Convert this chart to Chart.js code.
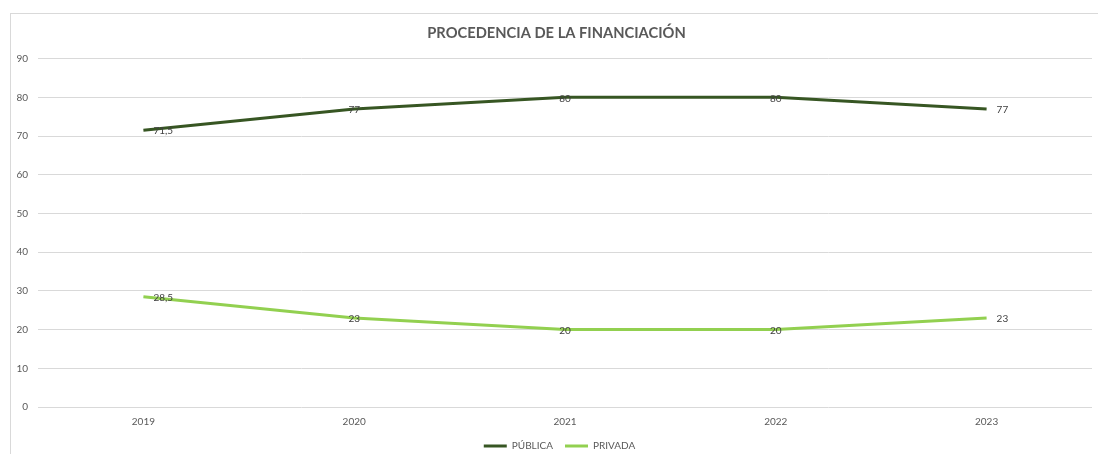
<!DOCTYPE html>
<html>
<head>
<meta charset="utf-8">
<style>
  html, body { margin: 0; padding: 0; background: #fff; overflow: hidden; }
  #box {
    position: absolute; left: 10px; top: 13px;
    width: 1092px; height: 470px;
    border: 1px solid #d9d9d9; background: #fff;
  }
  canvas { display: block; }
</style>
</head>
<body>
<div id="box"><canvas id="finChart" width="1092" height="449"></canvas></div>

<script src="https://cdn.jsdelivr.net/npm/chart.js"></script>
<script>
  const years = ["2019", "2020", "2021", "2022", "2023"];
  const publica = [71.5, 77, 80, 80, 77];
  const privada = [28.5, 23, 20, 20, 23];
  const yTicks = [0, 10, 20, 30, 40, 50, 60, 70, 80, 90];

  const FONT = "Lato, 'Liberation Sans', sans-serif";
  const GREY = "#595959";

  // data labels: first/last to the right of the point, the rest centred on it
  const pointLabels = {
    id: "pointLabels",
    afterDatasetsDraw(chart) {
      const ctx = chart.ctx;
      ctx.save();
      ctx.font = "10px " + FONT;
      ctx.fillStyle = "#404040";
      ctx.textBaseline = "middle";
      chart.data.datasets.forEach((ds, di) => {
        const meta = chart.getDatasetMeta(di);
        meta.data.forEach((pt, i) => {
          const txt = String(ds.data[i]).replace(".", ",");
          if (i === 0 || i === ds.data.length - 1) {
            ctx.textAlign = "left";
            ctx.fillText(txt, pt.x + 10, pt.y + 1);
          } else {
            ctx.textAlign = "center";
            ctx.fillText(txt, pt.x, pt.y + 1);
          }
        });
      });
      ctx.restore();
    }
  };

  // the chart object is wider than the window, so nudge title + legend right
  const nudgeBlocks = {
    id: "nudgeBlocks",
    afterLayout(chart) {
      if (chart.titleBlock) { chart.titleBlock.left += 5; chart.titleBlock.right += 5; }
      if (chart.legend) { chart.legend.left += 8; chart.legend.right += 8; }
    }
  };

  new Chart(document.getElementById("finChart"), {
    type: "line",
    data: {
      labels: years,
      datasets: [
        {
          label: "PÚBLICA",
          data: publica,
          borderColor: "#375623",
          backgroundColor: "#375623",
          borderWidth: 3,
          pointRadius: 0,
          tension: 0
        },
        {
          label: "PRIVADA",
          data: privada,
          borderColor: "#92d050",
          backgroundColor: "#92d050",
          borderWidth: 3,
          pointRadius: 0,
          tension: 0
        }
      ]
    },
    options: {
      responsive: false,
      animation: false,
      layout: { padding: { left: 0, right: 11, top: 0, bottom: 2 } },
      plugins: {
        title: {
          display: true,
          text: "PROCEDENCIA DE LA FINANCIACIÓN",
          color: GREY,
          font: { family: FONT, size: 14.7, weight: "bold" },
          padding: { top: 10, bottom: 17 }
        },
        legend: {
          position: "bottom",
          labels: {
            usePointStyle: true,
            pointStyle: "line",
            pointStyleWidth: 23,
            boxHeight: 3,
            padding: 12,
            color: GREY,
            font: { family: FONT, size: 10 }
          }
        },
        tooltip: { enabled: false }
      },
      scales: {
        x: {
          offset: true,
          afterFit(scale) { scale.height -= 8; },
          grid: { display: false, drawTicks: false },
          border: { display: false },
          ticks: { color: GREY, font: { family: FONT, size: 10 }, padding: 9, maxRotation: 0 }
        },
        y: {
          min: 0,
          max: 90,
          afterFit(scale) { scale.width = 27; },
          afterBuildTicks(scale) { scale.ticks = yTicks.map(v => ({ value: v })); },
          grid: { color: "#d9d9d9", lineWidth: 1, drawTicks: false },
          border: { display: false },
          ticks: { color: GREY, font: { family: FONT, size: 10 }, padding: 10 }
        }
      }
    },
    plugins: [pointLabels, nudgeBlocks]
  });
</script>
</body>
</html>
